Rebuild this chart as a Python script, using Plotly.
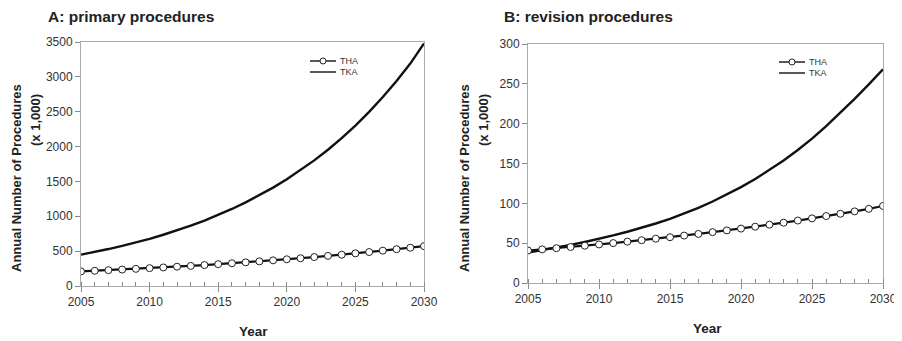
import plotly.graph_objects as go

years = list(range(2005, 2031))

primary_tha = [209, 218, 227, 236, 246, 256, 266, 277, 288, 300, 313, 326, 339,
               353, 368, 383, 398, 415, 432, 449, 468, 487, 507, 528, 549, 572]
primary_tka = [450, 488, 530, 575, 624, 677, 735, 797, 865, 938, 1018, 1105, 1199,
               1300, 1411, 1530, 1660, 1802, 1955, 2121, 2302, 2497, 2710, 2940, 3190, 3480]

revision_tha = [40.8, 42.2, 43.7, 45.2, 46.8, 48.4, 50.1, 51.9, 53.7, 55.6, 57.5, 59.5, 61.6,
                63.8, 66.0, 68.3, 70.7, 73.2, 75.7, 78.4, 81.1, 84.0, 86.9, 89.9, 93.1, 96.7]
revision_tka = [38.3, 41.2, 44.4, 47.8, 51.5, 55.4, 59.7, 64.3, 69.3, 74.7, 80.6, 87.2, 94.4,
                102.3, 110.9, 120.3, 130.5, 141.6, 153.7, 166.9, 181.2, 196.8, 213.6, 231.2, 249.3, 268.2]

x_ticks = [2005, 2010, 2015, 2020, 2025, 2030]
yA_ticks = [0, 500, 1000, 1500, 2000, 2500, 3000, 3500]
yB_ticks = [0, 50, 100, 150, 200, 250, 300]

W, H = 902, 341
OFF = 8  # page body margin
FONT = "Liberation Sans, Arial, sans-serif"

fig = go.Figure()

def add_panel(xa, ya, tha, tka):
    fig.add_trace(go.Scatter(x=years, y=tka, mode="lines", name="TKA",
                             line=dict(color="#111", width=2.4),
                             xaxis=xa, yaxis=ya, showlegend=False))
    fig.add_trace(go.Scatter(x=years, y=tha, mode="lines+markers", name="THA",
                             line=dict(color="#111", width=2.2),
                             marker=dict(symbol="circle", size=7, color="white",
                                         line=dict(color="#222", width=1)),
                             xaxis=xa, yaxis=ya, showlegend=False))

add_panel("x", "y", primary_tha, primary_tka)
add_panel("x2", "y2", revision_tha, revision_tka)

def px(v):
    return (v - OFF) / W

def py(v):
    return (H - (v - OFF)) / H

axis_common = dict(showgrid=False, zeroline=False, linecolor="#aaaaaa", linewidth=1,
                   mirror=True, tickcolor="#888888", automargin=False,
                   tickfont=dict(family=FONT, size=12, color="#333"))

fig.update_layout(
    width=W, height=H, margin=dict(l=0, r=0, t=0, b=0, autoexpand=False),
    paper_bgcolor="white", plot_bgcolor="white", showlegend=False,
    xaxis=dict(domain=[px(81), px(424)], range=[2005, 2030], tickvals=x_ticks,
               ticks="outside", ticklen=5,
               minor=dict(dtick=1, tick0=2005, ticks="inside", ticklen=4, tickcolor="#888"),
               anchor="y", **axis_common),
    yaxis=dict(domain=[py(286), py(42)], range=[0, 3500], tickvals=yA_ticks,
               ticks="outside", ticklen=5, anchor="x", **axis_common),
    xaxis2=dict(domain=[px(528), px(883)], range=[2005, 2030], tickvals=x_ticks,
                ticks="outside", ticklen=5,
                minor=dict(dtick=1, tick0=2005, ticks="inside", ticklen=4, tickcolor="#888"),
                anchor="y2", **axis_common),
    yaxis2=dict(domain=[py(283), py(44)], range=[0, 300], tickvals=yB_ticks,
                ticks="outside", ticklen=5, anchor="x2", **axis_common),
)

ann = []
def text(x, y, s, size, angle=0, xanchor="center", bold=True, color="#222", pad=1):
    ann.append(dict(x=px(x), y=py(y), xref="paper", yref="paper", text=(f"<b>{s}</b>" if bold else s),
                    showarrow=False, textangle=angle, xanchor=xanchor, yanchor="middle",
                    borderpad=pad, font=dict(family=FONT, size=size, color=color)))

text(47, 17, "A: primary procedures", 15.5, xanchor="left", pad=0)
text(503, 17, "B: revision procedures", 15.5, xanchor="left", pad=0)
text(253, 331, "Year", 13.5)
text(707, 328, "Year", 13.5)
for x0 in (16, 464):
    text(x0, 178, "Annual Number of Procedures", 13, angle=-90)
    text(x0 + 19, 120, "(x 1,000)", 13, angle=-90)

fig.update_layout(annotations=ann)

def legend(x0, y0):
    fig.add_shape(type="line", xref="paper", yref="paper", x0=px(x0), x1=px(x0 + 26),
                  y0=py(y0), y1=py(y0), line=dict(color="#222", width=1.5))
    fig.add_shape(type="circle", xref="paper", yref="paper", x0=px(x0 + 10), x1=px(x0 + 16),
                  y0=py(y0 + 3), y1=py(y0 - 3), line=dict(color="#222", width=1), fillcolor="white")
    fig.add_shape(type="line", xref="paper", yref="paper", x0=px(x0), x1=px(x0 + 26),
                  y0=py(y0 + 11), y1=py(y0 + 11), line=dict(color="#222", width=1.5))
    fig.add_annotation(x=px(x0 + 28), y=py(y0), xref="paper", yref="paper", text="THA",
                       showarrow=False, xanchor="left", yanchor="middle",
                       font=dict(family=FONT, size=9, color="#333"))
    fig.add_annotation(x=px(x0 + 28), y=py(y0 + 11), xref="paper", yref="paper", text="TKA",
                       showarrow=False, xanchor="left", yanchor="middle",
                       font=dict(family=FONT, size=9, color="#333"))

legend(310, 61)
legend(779, 62)

fig.write_html("out.html")
